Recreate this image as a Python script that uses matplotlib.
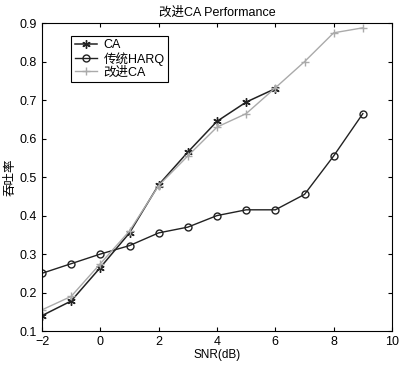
import matplotlib
matplotlib.use("Agg")
import matplotlib.pyplot as plt

plt.rcParams['font.family'] = ['Liberation Sans', 'Noto Sans CJK SC']

snr_ca = [-2, -1, 0, 1, 2, 3, 4, 5, 6]
ca = [0.14, 0.178, 0.265, 0.355, 0.48, 0.565, 0.645, 0.695, 0.73]

snr = [-2, -1, 0, 1, 2, 3, 4, 5, 6, 7, 8, 9]
harq = [0.25, 0.275, 0.30, 0.322, 0.355, 0.37, 0.40, 0.415, 0.415, 0.455, 0.555, 0.665]
improved = [0.155, 0.19, 0.275, 0.36, 0.478, 0.555, 0.63, 0.665, 0.732, 0.80, 0.875, 0.888]

fig = plt.figure(figsize=(4.0, 3.66), dpi=100)
ax = fig.add_axes([0.105, 0.0956, 0.875, 0.841])

ax.plot(snr_ca, ca, color='#222222', marker=(6, 2, 0), markersize=6, linewidth=1.1, label='CA')
ax.plot(snr, harq, color='#222222', marker='o', markersize=5, markerfacecolor='none', linewidth=1.0, label='传统HARQ')
ax.plot(snr, improved, color='#aaaaaa', marker='+', markersize=6, linewidth=1.0, label='改进CA')

ax.set_xlim(-2, 10)
ax.set_ylim(0.1, 0.9)
ax.set_xticks([-2, 0, 2, 4, 6, 8, 10])
ax.set_yticks([0.1, 0.2, 0.3, 0.4, 0.5, 0.6, 0.7, 0.8, 0.9])
ax.tick_params(direction='in', top=True, right=True, labelsize=9, length=3)
ax.set_xlabel('SNR(dB)', fontsize=8.5, labelpad=1)
ax.set_ylabel('吞吐率', fontsize=9, labelpad=2)
ax.set_title('改进CA Performance', fontsize=9, pad=5)
leg = ax.legend(loc='upper left', bbox_to_anchor=(0.065, 0.98), fontsize=9, fancybox=False,
                edgecolor='black', framealpha=1, handlelength=1.8, borderpad=0.3,
                labelspacing=0.05, handletextpad=0.5)
leg.get_frame().set_linewidth(0.8)

fig.savefig('out.png', dpi=100)
